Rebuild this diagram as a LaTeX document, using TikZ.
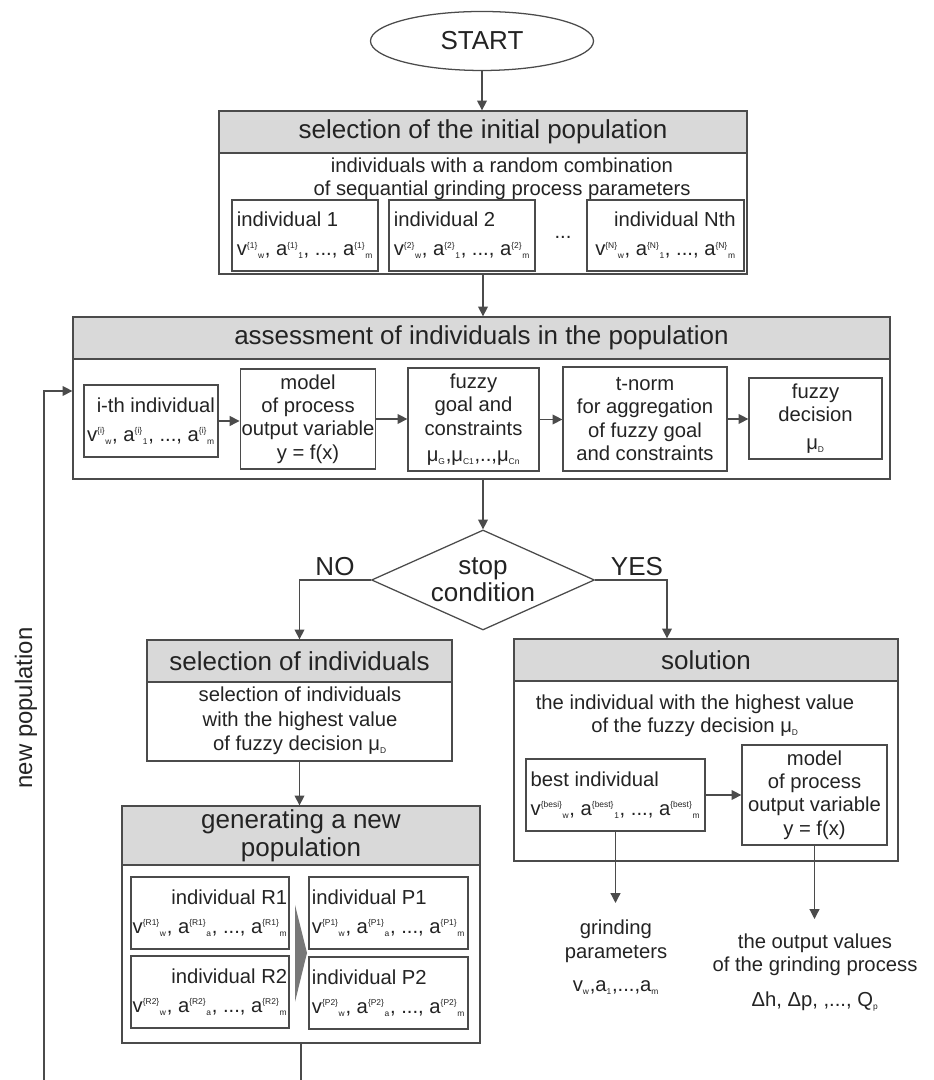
\documentclass[tikz,border=0pt]{standalone}
\usepackage{fontspec}
\setmainfont{Liberation Sans}
\usepackage{tikz}
\usetikzlibrary{
  arrows.meta, positioning, shapes.geometric, calc
}
\definecolor{linegray}{RGB}{75, 75, 75}
\definecolor{headgray}{RGB}{217, 217, 217}
\definecolor{inkgray}{RGB}{35, 35, 35}
\definecolor{chevgray}{RGB}{120, 120, 120}

\newcommand{\headsize}{\fontsize{18.5}{20}\selectfont}
\newcommand{\bodysize}{\fontsize{14.4}{16.5}\selectfont}
\newcommand{\supx}[1]{\textsuperscript{\fontsize{6}{6}\selectfont#1}}
\newcommand{\subx}[1]{\textsubscript{\fontsize{6}{6}\selectfont#1}}
\newcommand{\indvec}[3]{v\supx{\{#1\}}\subx{w}, a\supx{\{#2\}}\subx{#3}, ..., a\supx{\{#2\}}\subx{m}}

\begin{document}
\begin{tikzpicture}[
    every node/.style={font=\bodysize, text=inkgray},
    panel/.style={draw=linegray, line width=0.9pt, inner sep=0pt},
    head/.style={draw=linegray, fill=headgray, line width=0.9pt,
                 inner sep=0pt, align=center, font=\headsize},
    cell/.style={draw=linegray, line width=0.9pt, inner sep=1pt, align=center},
    oval/.style={ellipse, draw=linegray, line width=0.9pt, font=\headsize,
                 minimum width=5.575cm, minimum height=1.475cm},
    cond/.style={diamond, draw=linegray, line width=0.9pt, aspect=2.23,
                 inner sep=0pt, minimum width=5.575cm, minimum height=2.5cm,
                 align=center, font=\fontsize{18.5}{19.5}\selectfont},
    arr/.style={draw=linegray, line width=0.9pt,
                -{Triangle[width=7pt,length=7pt]}},
    link/.style={draw=linegray, line width=0.9pt}
  ]
    \useasboundingbox (0,0) rectangle (23.325,27);

    % Start
    \node[oval] (start) at (12.05,25.975) {START};

    % Initial population
    \node[panel, minimum width=13.2cm, minimum height=4.075cm] (init) at (12.075,22.1875) {};
    \node[head, minimum width=13.2cm, minimum height=1.05cm, below=0pt of init.north] (initHead)
      {selection of the initial population};
    \node[align=center] (initTxt) at (12.55,22.5375)
      {individuals with a random combination\\of sequantial grinding process parameters};
    \node[cell, align=left, minimum width=3.65cm, minimum height=1.775cm] (ind1) at (7.625,21.1125)
      {individual 1\\[4pt]\indvec{1}{1}{1}};
    \node[cell, align=left, minimum width=3.65cm, minimum height=1.775cm] (ind2) at (11.55,21.1125)
      {individual 2\\[4pt]\indvec{2}{2}{1}};
    \node (dots) at (14.075,21.075) {...};
    \node[cell, align=right, minimum width=3.925cm, minimum height=1.775cm] (indN) at (16.6375,21.1125)
      {individual Nth\\[4pt]\indvec{N}{N}{1}};

    \draw[arr] (start.south) -- (start.south |- init.north);

    % Assessment
    \node[panel, minimum width=20.425cm, minimum height=4.05cm] (assess) at (12.0375,17.05) {};
    \node[head, minimum width=20.425cm, minimum height=1.05cm, below=0pt of assess.north] (assessHead)
      {assessment of individuals in the population};
    \node[cell, align=right, minimum width=3.35cm, minimum height=1.8cm] (ith) at (3.775,16.475)
      {i-th individual\\[4pt]\indvec{i}{i}{1}};
    \node[cell, minimum width=3.35cm, minimum height=2.5cm] (model) at (7.7,16.525)
      {model\\of process\\output variable\\y = f(x)};
    \node[cell, minimum width=3.275cm, minimum height=2.575cm] (goal) at (11.8375,16.5125)
      {fuzzy\\goal and\\constraints\\[2pt]μ\subx{G},μ\subx{C1},..,μ\subx{Cn}};
    \node[cell, minimum width=4.1cm, minimum height=2.6cm] (tnorm) at (16.125,16.525)
      {t-norm\\for aggregation\\of fuzzy goal\\and constraints};
    \node[cell, minimum width=3.325cm, minimum height=2.025cm] (decision) at (20.3875,16.5375)
      {fuzzy\\decision\\[3pt]μ\subx{D}};

    \draw[arr] (init.south) -- (init.south |- assess.north);
    \draw[arr] (ith.east) -- (ith.east -| model.west);
    \draw[arr] (model.east) -- (model.east -| goal.west);
    \draw[arr] (goal.east) -- (goal.east -| tnorm.west);
    \draw[arr] (tnorm.east) -- (tnorm.east -| decision.west);

    % Stop condition
    \node[cond] (stop) at (12.075,12.5) {stop\\condition};
    \draw[arr] (stop.north |- assess.south) -- (stop.north);
    \node[font=\headsize] (noLbl) at (8.375,12.825) {NO};
    \node[font=\headsize] (yesLbl) at (15.925,12.825) {YES};

    % Selection of individuals
    \node[panel, minimum width=7.625cm, minimum height=3.025cm] (sel) at (7.4875,9.4875) {};
    \node[head, minimum width=7.625cm, minimum height=1.05cm, below=0pt of sel.north] (selHead)
      {selection of individuals};
    \node[align=center, font=\fontsize{14.4}{17.4}\selectfont] (selTxt) at (7.5,8.975)
      {selection of individuals\\with the highest value\\of fuzzy decision μ\subx{D}};
    \draw[arr] (stop.west) -| (sel.north);

    % New population
    \node[panel, minimum width=8.95cm, minimum height=5.925cm] (gen) at (7.525,3.8875) {};
    \node[head, minimum width=8.95cm, minimum height=1.475cm, below=0pt of gen.north] (genHead)
      {generating a new\\population};
    \node[cell, align=right, minimum width=3.95cm, minimum height=1.8cm] (r1) at (5.25,4.175)
      {individual R1\\[4pt]\indvec{R1}{R1}{a}};
    \node[cell, align=right, minimum width=3.95cm, minimum height=1.8cm] (r2) at (5.25,2.2)
      {individual R2\\[4pt]\indvec{R2}{R2}{a}};
    \node[cell, align=left, minimum width=3.975cm, minimum height=1.8cm] (p1) at (9.7125,4.175)
      {individual P1\\[4pt]\indvec{P1}{P1}{a}};
    \node[cell, align=left, minimum width=3.975cm, minimum height=1.8cm] (p2) at (9.7125,2.175)
      {individual P2\\[4pt]\indvec{P2}{P2}{a}};
    \fill[chevgray] (7.375,4.375) -- (7.675,3.175) -- (7.375,1.95) -- cycle;
    \draw[arr] (sel.south) -- (sel.south |- gen.north);

    % Loop back
    \coordinate (loopB) at (1.1,0);
    \draw[link] (gen.south) -- (gen.south |- loopB);
    \draw[arr] (loopB) |- ($(assess.west)+(0,0.175)$);
    \node[rotate=90, font=\fontsize{17}{20}\selectfont] (newPop) at (0.65,9.3) {new population};

    % Solution
    \node[panel, minimum width=9.6cm, minimum height=5.55cm] (sol) at (17.65,8.25) {};
    \node[head, minimum width=9.6cm, minimum height=1.05cm, below=0pt of sol.north] (solHead)
      {solution};
    \node[align=center] (solTxt) at (17.375,9.1)
      {the individual with the highest value\\of the fuzzy decision μ\subx{D}};
    \node[cell, align=left, minimum width=4.475cm, minimum height=1.8cm] (best) at (15.3875,7.125)
      {best individual\\[4pt]\indvec{besi}{best}{1}};
    \node[cell, minimum width=3.625cm, minimum height=2.5cm] (model2) at (20.3625,7.125)
      {model\\of process\\output variable\\y = f(x)};
    \draw[arr] (stop.east) -| ([xshift=-0.975cm]sol.north);
    \draw[arr] (best.east) -- (best.east -| model2.west);

    % Results
    \node[align=center, anchor=north, inner sep=12pt] (params) at (15.4,4.425)
      {grinding\\parameters\\[7pt]v\subx{w},a\subx{1},...,a\subx{m}};
    \node[align=center, anchor=north, inner sep=10.5pt] (outputs) at (20.375,4.025)
      {the output values\\of the grinding process\\[8pt]Δh, Δp, ,..., Q\subx{p}};
    \draw[arr] (best.south) -- (best.south |- params.north);
    \draw[arr] (model2.south) -- (model2.south |- outputs.north);
\end{tikzpicture}
\end{document}
